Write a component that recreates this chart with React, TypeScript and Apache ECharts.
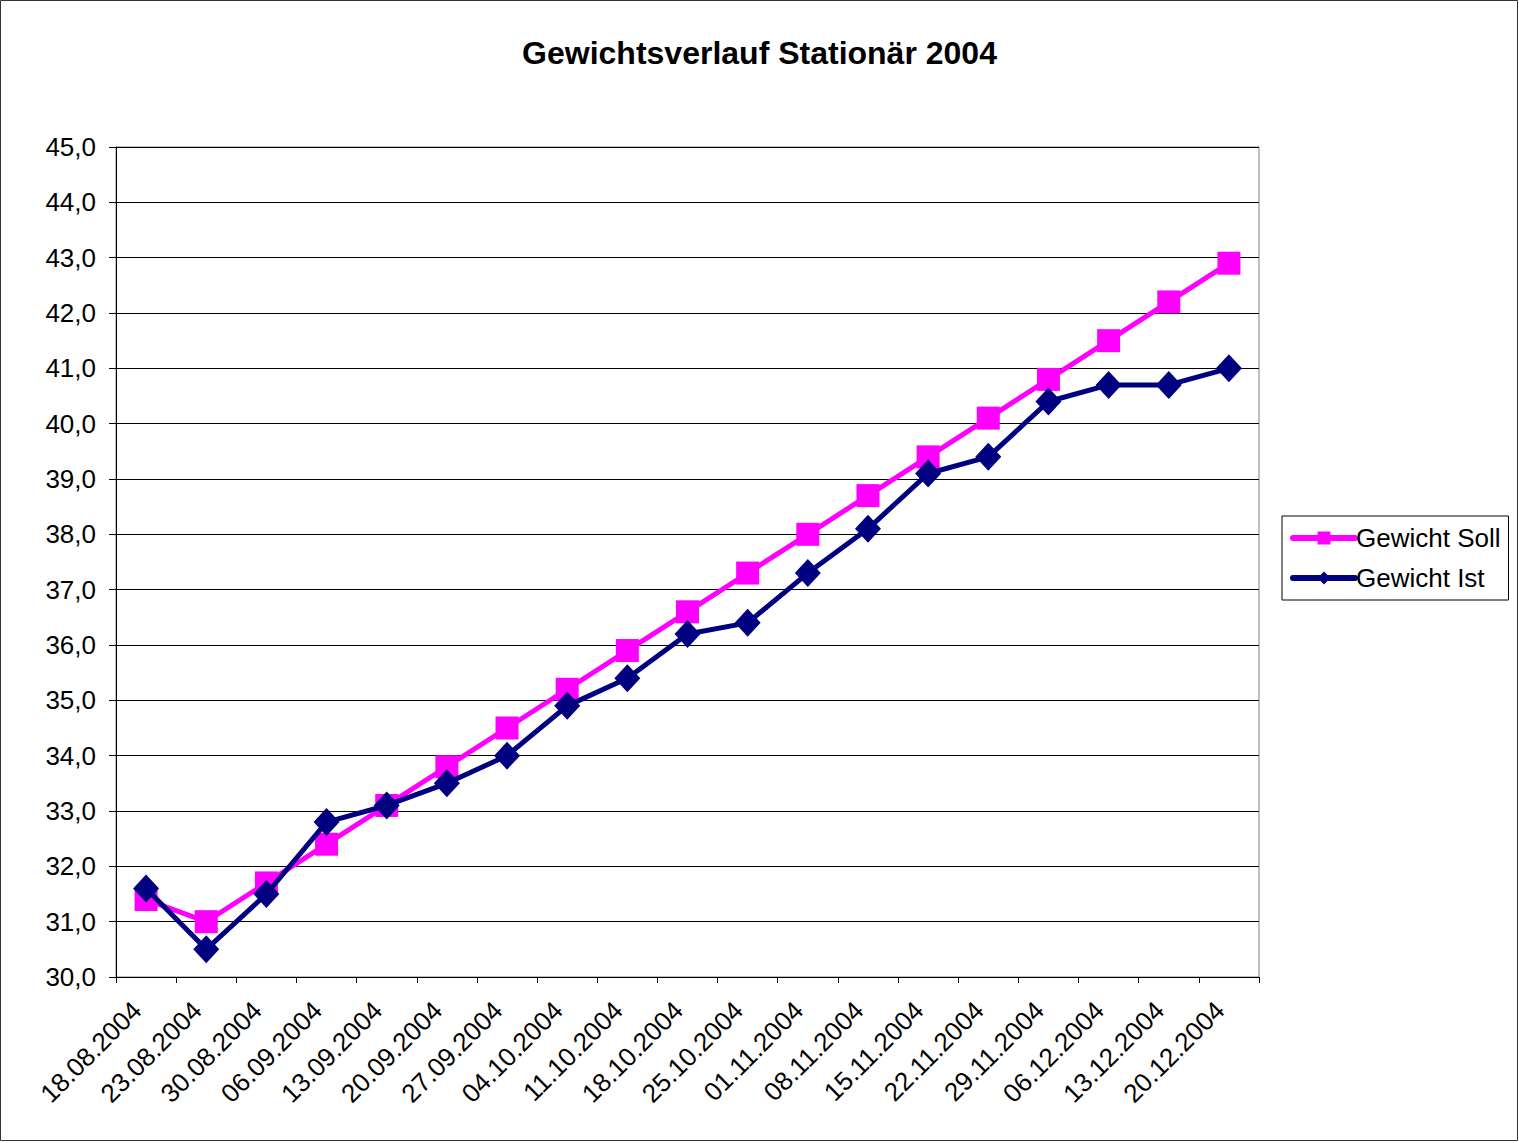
import React, { useEffect, useRef } from "react";
import * as echarts from "echarts";

const categories = [
  "18.08.2004", "23.08.2004", "30.08.2004", "06.09.2004", "13.09.2004",
  "20.09.2004", "27.09.2004", "04.10.2004", "11.10.2004", "18.10.2004",
  "25.10.2004", "01.11.2004", "08.11.2004", "15.11.2004", "22.11.2004",
  "29.11.2004", "06.12.2004", "13.12.2004", "20.12.2004",
];
const gewichtSoll = [
  31.4, 31.0, 31.7, 32.4, 33.1, 33.8, 34.5, 35.2, 35.9, 36.6,
  37.3, 38.0, 38.7, 39.4, 40.1, 40.8, 41.5, 42.2, 42.9,
];
const gewichtIst = [
  31.6, 30.5, 31.5, 32.8, 33.1, 33.5, 34.0, 34.9, 35.4, 36.2,
  36.4, 37.3, 38.1, 39.1, 39.4, 40.4, 40.7, 40.7, 41.0,
];
const yMin = 30;
const yMax = 45;
const yStep = 1;

const FONT = "Liberation Sans, Arial, sans-serif";

export default function App() {
  const ref = useRef<HTMLDivElement>(null);
  useEffect(() => {
    const chart = echarts.init(ref.current!, null, { renderer: "svg" });
    chart.setOption({
      animation: false,
      backgroundColor: "#ffffff",
      textStyle: { fontFamily: FONT },
      title: {
        text: "Gewichtsverlauf Stationär 2004",
        left: "center",
        top: 32,
        textStyle: { fontSize: 32, fontWeight: "bold", color: "#000", fontFamily: FONT },
      },
      graphic: [
        {
          type: "rect",
          shape: { x: 0.5, y: 0.5, width: 1517, height: 1140 },
          style: { fill: "none", stroke: "#333", lineWidth: 1 },
          silent: true,
        },
      ],
      legend: {
        orient: "vertical",
        left: 1282,
        top: 516,
        padding: [9, 8, 9, 8],
        itemGap: 14,
        itemWidth: 62,
        itemHeight: 16,
        borderColor: "#000",
        borderWidth: 1,
        backgroundColor: "#fff",
        lineStyle: { width: 6, cap: "round" },
        textStyle: { fontSize: 26, color: "#000", fontFamily: FONT, padding: [0, 0, 0, -4] },
        data: ["Gewicht Soll", "Gewicht Ist"],
      },
      grid: {
        left: 116,
        top: 147,
        right: 260,
        bottom: 166,
        show: true,
        borderColor: "#808080",
        borderWidth: 1,
        backgroundColor: "transparent",
        containLabel: false,
      },
      xAxis: {
        type: "category",
        data: categories,
        boundaryGap: true,
        axisLine: { lineStyle: { color: "#000", width: 1 } },
        axisTick: { show: true, length: 6, lineStyle: { color: "#000" } },
        axisLabel: {
          rotate: 45,
          fontSize: 26,
          color: "#000",
          fontFamily: FONT,
          margin: 38,
          verticalAlign: "bottom",
          interval: 0,
        },
        splitLine: { show: false },
      },
      yAxis: {
        type: "value",
        min: yMin,
        max: yMax,
        interval: yStep,
        axisLine: { show: true, lineStyle: { color: "#000", width: 1 } },
        axisTick: { show: true, length: 7, lineStyle: { color: "#000" } },
        axisLabel: {
          fontSize: 26,
          color: "#000",
          fontFamily: FONT,
          margin: 20,
          formatter: (v: number) => v.toFixed(1).replace(".", ","),
        },
        splitLine: { show: true, lineStyle: { color: "#000", width: 1 } },
      },
      series: [
        {
          name: "Gewicht Soll",
          type: "line",
          data: gewichtSoll,
          symbol: "rect",
          symbolSize: 23,
          lineStyle: { color: "#FF00FF", width: 5 },
          itemStyle: { color: "#FF00FF" },
          z: 2,
        },
        {
          name: "Gewicht Ist",
          type: "line",
          data: gewichtIst,
          symbol: "diamond",
          symbolSize: [26, 28],
          lineStyle: { color: "#000080", width: 5 },
          itemStyle: { color: "#000080" },
          z: 3,
        },
      ],
    });
    return () => chart.dispose();
  }, []);
  return (
    <div
      ref={ref}
      style={{ position: "absolute", left: 0, top: 0, width: 1519, height: 1143 }}
    />
  );
}
